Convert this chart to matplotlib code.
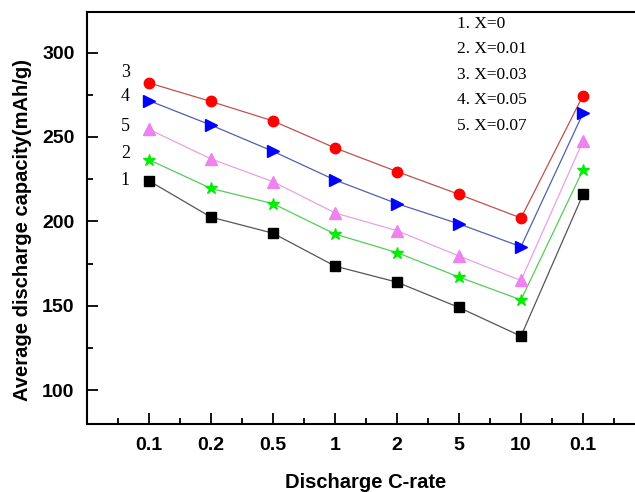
import matplotlib
matplotlib.use("Agg")
import matplotlib.pyplot as plt
from matplotlib.ticker import MultipleLocator

rates = ["0.1", "0.2", "0.5", "1", "2", "5", "10", "0.1"]
x_pos = [1, 2, 3, 4, 5, 6, 7, 8]

cap_x000 = [224, 202.5, 193, 173.5, 164, 149, 132, 216]
cap_x001 = [236.5, 219.5, 210.5, 192.5, 181.5, 167, 153.5, 230.5]
cap_x003 = [282, 271, 259.5, 243.5, 229.5, 216, 202, 274.5]
cap_x005 = [271.5, 257, 241.5, 224.5, 210.5, 198.5, 185, 264]
cap_x007 = [254.5, 237, 223.5, 205, 194.5, 179.5, 165, 247.5]

legend_lines = ["1. X=0", "2. X=0.01", "3. X=0.03", "4. X=0.05", "5. X=0.07"]

serif = ["Liberation Serif", "DejaVu Serif"]
sans = ["Liberation Sans", "DejaVu Sans"]

fig = plt.figure(figsize=(6.35, 4.92), dpi=100)
ax = fig.add_axes([87 / 635, 1 - 424 / 492, 558 / 635, 412 / 492])

series = [
    (cap_x000, "s", "black", "#555555", 6.5),
    (cap_x001, "*", "#00ee00", "#55cc55", 9),
    (cap_x003, "o", "red", "#c0504d", 7.5),
    (cap_x005, ">", "blue", "#5060b0", 8),
    (cap_x007, "^", "violet", "#e8a0e8", 8),
]
for vals, mk, mc, lc, ms in series:
    ax.plot(x_pos, vals, color=lc, lw=0.9, zorder=2)
    ax.plot(x_pos, vals, ls="none", marker=mk, ms=ms, color=mc,
            markeredgecolor=mc, zorder=3)

ax.set_xlim(0, 9)
ax.set_ylim(80, 324)
ax.set_xticks(x_pos)
ax.set_xticklabels(rates)
ax.xaxis.set_minor_locator(MultipleLocator(0.5))
ax.set_yticks([100, 150, 200, 250, 300])
ax.yaxis.set_minor_locator(MultipleLocator(25))

ax.tick_params(which="both", direction="in", top=False, right=False, width=1.3)
ax.tick_params(which="major", length=8, pad=9, labelsize=14)
ax.tick_params(which="minor", length=4.5)
for lab in ax.get_xticklabels() + ax.get_yticklabels():
    lab.set_fontweight("bold")
    lab.set_family(sans)
for s in ax.spines.values():
    s.set_linewidth(1.5)

ax.set_xlabel("Discharge C-rate", fontsize=14.5, fontweight="bold", family=sans)
ax.set_ylabel("Average discharge capacity(mAh/g)", fontsize=14.5,
              fontweight="bold", family=sans)
ax.xaxis.set_label_coords(0.5, -0.12)
ax.yaxis.set_label_coords(-0.098, 0.47)

# curve numbers at left
for txt, yv in [("3", 288), ("4", 274), ("5", 256), ("2", 240), ("1", 224)]:
    ax.text(0.62, yv, txt, fontsize=13, family=serif, ha="center", va="center")

# legend-like text block
for i, t in enumerate(legend_lines):
    ax.text(5.97, 317 - i * 15.1, t, fontsize=12.5, family=serif,
            ha="left", va="center")

fig.savefig("out.png", dpi=100)
